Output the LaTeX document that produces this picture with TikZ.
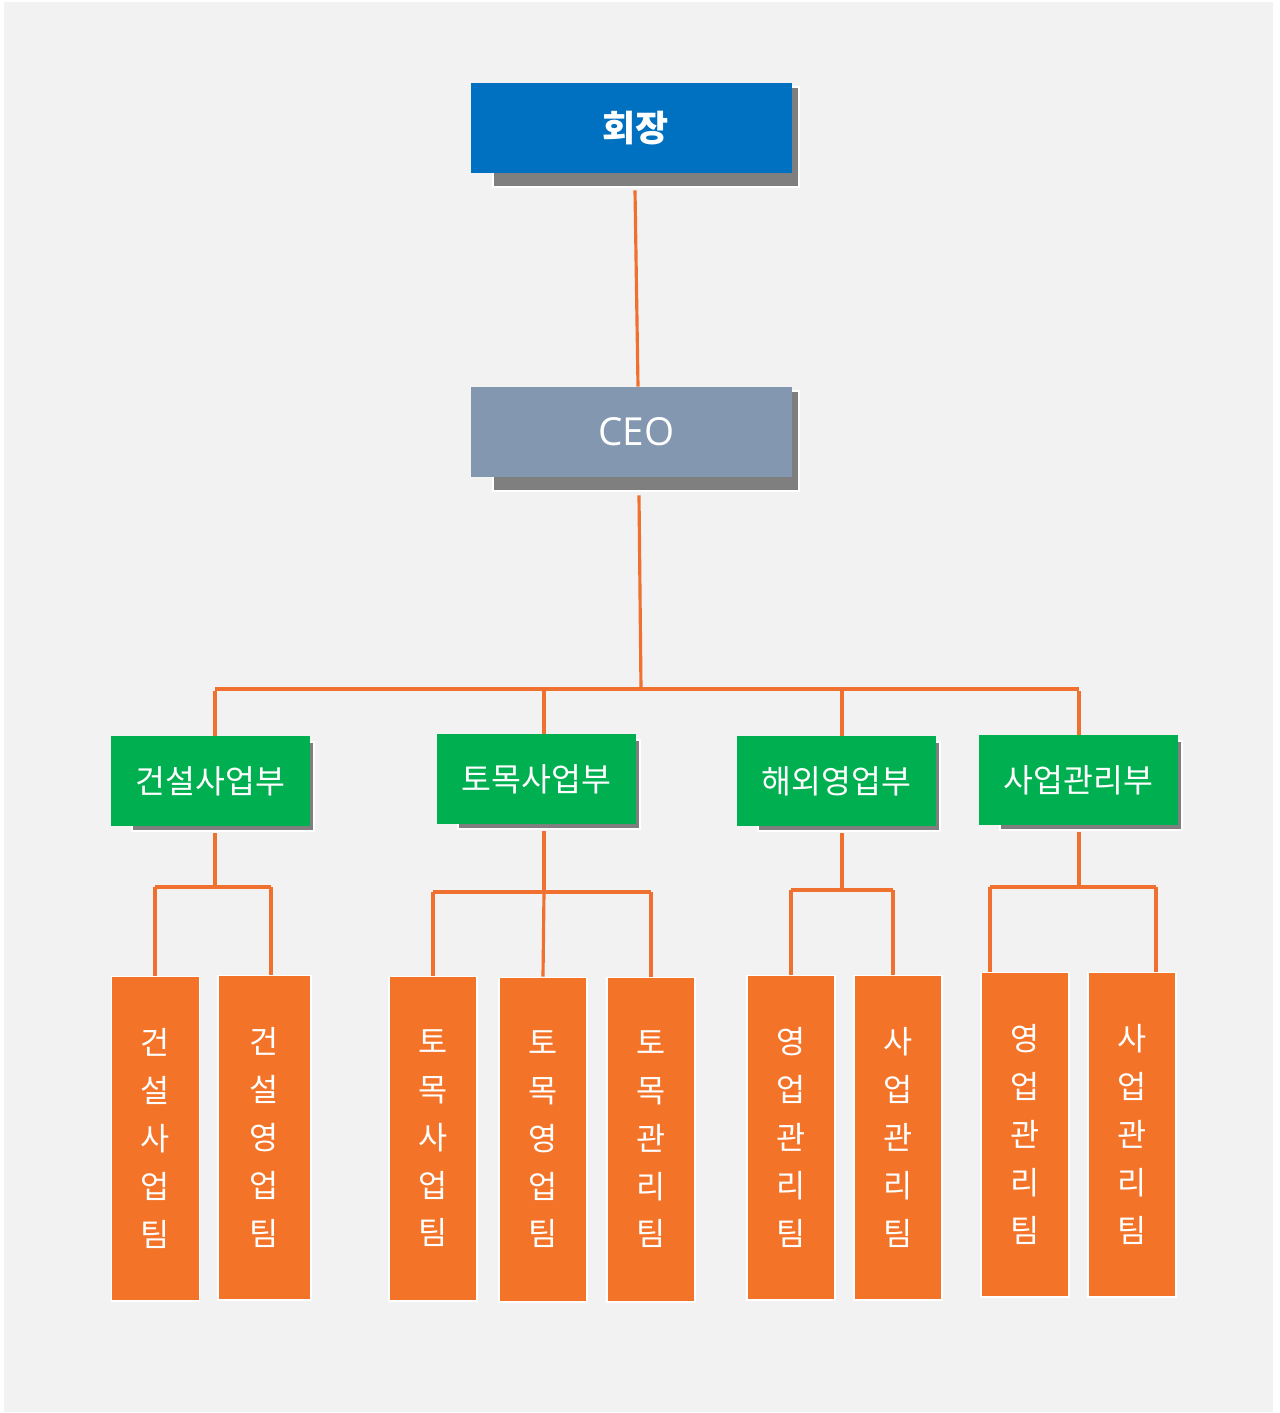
\documentclass[tikz,border=0pt]{standalone}
\usepackage{fontspec}
\setmainfont{Noto Sans CJK KR}
\newfontfamily\ceofont{Open Sans}
\usetikzlibrary{positioning, backgrounds}

\pgfdeclarelayer{paper}
\pgfdeclarelayer{shade}
\pgfsetlayers{paper,shade,main}

\definecolor{chairblue}{HTML}{0070C0}
\definecolor{ceoblue}{HTML}{8497B0}
\definecolor{deptgreen}{HTML}{00B050}
\definecolor{teamorange}{HTML}{F37329}
\definecolor{linkorange}{HTML}{F07030}
\definecolor{paper}{HTML}{F2F2F2}
\definecolor{shadegray}{HTML}{7F7F7F}

\begin{document}
\begin{tikzpicture}[x=0.02cm, y=-0.02cm,
    topbox/.style={minimum width=6.42cm, minimum height=1.8cm, inner sep=0pt, text=white},
    deptbox/.style={fill=deptgreen, minimum width=3.98cm, minimum height=1.8cm, inner sep=0pt,
      text=white, font=\fontsize{18.5}{21}\selectfont},
    teambox/.style={fill=teamorange, draw=white, line width=0.6pt, minimum width=1.76cm,
      minimum height=6.5cm, inner sep=0pt, text=white, align=center,
      font=\fontsize{18}{27.2}\selectfont},
    shadowbox/.style={fill=shadegray, draw=white, line width=1.1pt},
    link/.style={draw=linkorange, line width=1.8pt}]

  \useasboundingbox (0,0) rectangle (1280,1413);

  % top of the chart
  \node [topbox, fill=chairblue, font=\fontsize{20.5}{23}\selectfont\bfseries] (chair) at (631.5,128) {\hspace*{0.16cm}회장};
  \node [topbox, fill=ceoblue, font=\ceofont\fontsize{22}{25}\selectfont] (ceo) at (631.5,432) {\hspace*{0.2cm}CEO};

  % departments
  \node [deptbox] (build) at (210.5,781) {건설사업부};
  \node [deptbox] (civil) at (536.5,779) {토목사업부};
  \node [deptbox] (overseas) at (836.5,781) {해외영업부};
  \node [deptbox] (bizmgmt) at (1078.5,780) {사업관리부};

  % teams
  \node [teambox] (buildbiz) at (155.5,1138.5) {건\\설\\사\\업\\팀};
  \node [teambox, minimum width=1.86cm] (buildsales) at (264.5,1137.5) {건\\설\\영\\업\\팀};
  \node [teambox] (civilbiz) at (433,1138.5) {토\\목\\사\\업\\팀};
  \node [teambox] (civilsales) at (543,1139.5) {토\\목\\영\\업\\팀};
  \node [teambox] (civilmgmt) at (651,1139.5) {토\\목\\관\\리\\팀};
  \node [teambox] (ovsales) at (791,1137.5) {영\\업\\관\\리\\팀};
  \node [teambox] (ovbiz) at (898,1137.5) {사\\업\\관\\리\\팀};
  \node [teambox] (mgsales) at (1025,1134.5) {영\\업\\관\\리\\팀};
  \node [teambox] (mgbiz) at (1132,1134.5) {사\\업\\관\\리\\팀};

  % chair -> ceo -> bus
  \draw [link] ([xshift=0.07cm,yshift=-0.34cm]chair.south) -- ([xshift=0.13cm]ceo.north);
  \coordinate (bus) at (641,689);
  \draw [link] ([xshift=0.15cm,yshift=-0.36cm]ceo.south) -- (bus);
  \draw [link] (215,689) coordinate (busl) -- (1079,689) coordinate (busr);
  \foreach \d/\x in {build/215, civil/544, overseas/842, bizmgmt/1079}
    \draw [link] (\x,691) coordinate (top) -- (top |- \d.north);

  % department -> teams
  \foreach \d/\x/\y in {build/215/887, civil/544/892, overseas/842/890, bizmgmt/1079/887} {
    \coordinate (stem) at (\x,\y);
    \draw [link] (stem |- \d.south) ++(0,7) -- (stem);
  }
  \draw [link] (155,887) -- (271,887);
  \draw [link] (433,892) -- (651,892);
  \draw [link] (791,890) -- (893,890);
  \draw [link] (990,887) -- (1156,887);
  \draw [link] (544,892) -- (civilsales.north);
  \foreach \t/\x/\y in {buildbiz/155/887, buildsales/271/887, civilbiz/433/892, civilmgmt/651/892,
      ovsales/791/890, ovbiz/893/890, mgsales/990/887, mgbiz/1156/887}
    \draw [link] (\x,\y) coordinate (drop) -- (drop |- \t.north);

  % shadows
  \begin{pgfonlayer}{shade}
    \foreach \n in {chair, ceo}
      \filldraw [shadowbox] ([xshift=0.44cm,yshift=-0.08cm]\n.north west) rectangle ([xshift=0.14cm,yshift=-0.28cm]\n.south east);
    \foreach \n in {build, civil, overseas, bizmgmt}
      \filldraw [shadowbox] ([xshift=0.42cm,yshift=-0.12cm]\n.north west) rectangle ([xshift=0.08cm,yshift=-0.1cm]\n.south east);
  \end{pgfonlayer}

  % background
  \begin{pgfonlayer}{paper}
    \fill [white] (0,0) rectangle (1280,1413);
    \fill [paper] (4,2) rectangle (1273,1412);
  \end{pgfonlayer}
\end{tikzpicture}
\end{document}
